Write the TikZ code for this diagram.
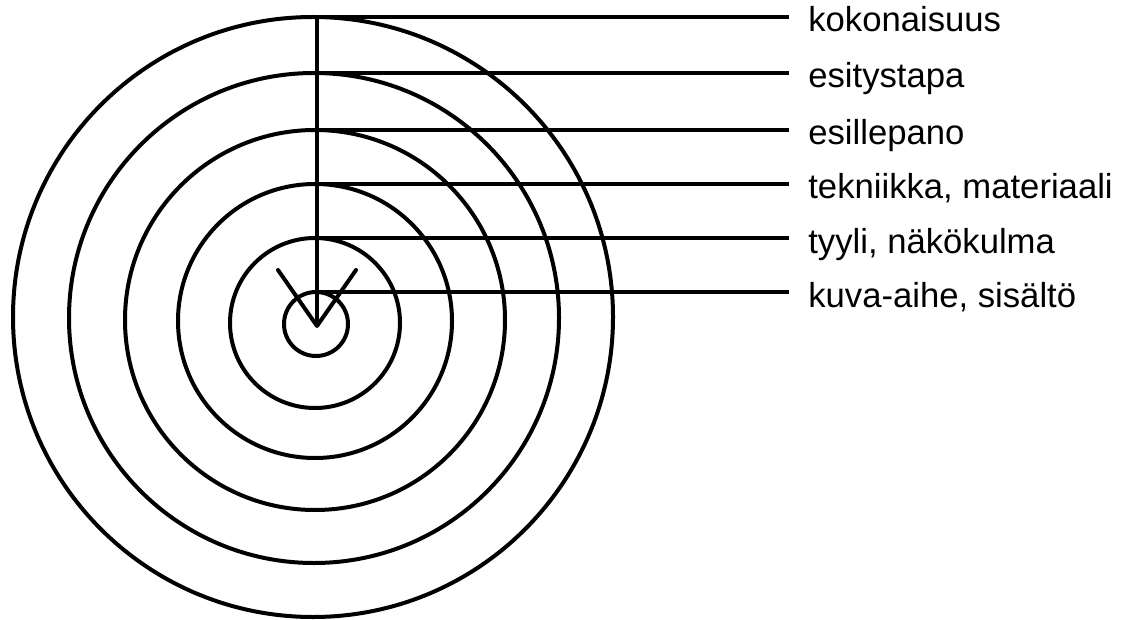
\documentclass[tikz,border=0pt]{standalone}
\usepackage{fontspec}
\setmainfont{Liberation Sans}
\usetikzlibrary{positioning, calc}

\begin{document}
\begin{tikzpicture}[
    x=0.75pt, y=-0.75pt,
    line width=3pt,
    ring/.style={draw, circle, inner sep=0pt, outer sep=0pt},
    lbl/.style={anchor=base west, inner xsep=13pt, inner ysep=0pt, font=\fontsize{26}{31}\selectfont}
]
\useasboundingbox (0,0) rectangle (1127,620);

% Rings, inside out
\node[ring, minimum size=48pt]    (R1) at (316,324) {};
\node[ring, minimum size=127.5pt] (R2) at (315,323) {};
\node[ring, minimum size=205.5pt] (R3) at (315,321) {};
\node[ring, minimum size=285pt]   (R4) at (315,320) {};
\node[ring, minimum size=367.5pt] (R5) at (314,318) {};
\node[ring, minimum size=450pt]   (R6) at (313,317) {};

% Labels
\node[lbl] (L1) at (789,307) {kuva-aihe, sisältö};
\node[lbl] (L2) at (789,253) {tyyli, näkökulma};
\node[lbl] (L3) at (789,199) {tekniikka, materiaali};
\node[lbl] (L4) at (789,145) {esillepano};
\node[lbl] (L5) at (789,88)  {esitystapa};
\node[lbl] (L6) at (789,32)  {kokonaisuus};

% Leader lines
\draw (R1.north) -- (R1.north -| L1.west);
\draw (R2.north) -- (R2.north -| L2.west);
\draw (R3.north) -- (R3.north -| L3.west);
\draw (R4.north) -- (R4.north -| L4.west);
\draw (R5.north) -- (R5.north -| L5.west);
\draw (R6.north) -- (R6.north -| L6.west);

% Axis and V
\coordinate (tip) at (317,326);
\coordinate (vl) at (278,270);
\coordinate (vr) at (356,270);
\draw (tip) -- (tip |- R6.north);
\draw[line cap=round, line join=round] (vl) -- (tip) -- (vr);

\end{tikzpicture}
\end{document}
